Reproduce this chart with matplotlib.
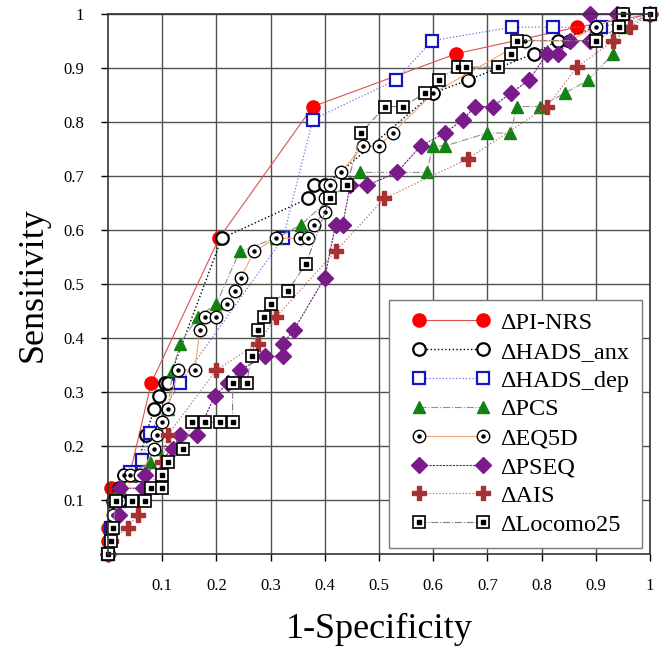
import matplotlib
matplotlib.use("Agg")
import matplotlib.pyplot as plt
from matplotlib.lines import Line2D
from matplotlib.legend_handler import HandlerTuple, HandlerLine2D

plt.rcParams['font.family'] = ['Liberation Serif', 'DejaVu Serif']

# ROC points (x = 1-specificity, y = sensitivity)
pinrs_x = [0, 0, 0, 0.005, 0.04, 0.08, 0.205, 0.378, 0.643, 0.865, 1.0]
pinrs_y = [0, 0.024, 0.049, 0.122, 0.146, 0.317, 0.585, 0.829, 0.927, 0.976, 1.0]

anx_x = [0, 0.005, 0.01, 0.02, 0.03, 0.05, 0.07, 0.085, 0.095, 0.105, 0.11, 0.21,
         0.37, 0.38, 0.4, 0.6, 0.664, 0.786, 0.83, 0.9, 0.95, 1.0]
anx_y = [0, 0.049, 0.098, 0.122, 0.146, 0.146, 0.22, 0.268, 0.293, 0.317, 0.317, 0.585,
         0.659, 0.683, 0.683, 0.854, 0.878, 0.927, 0.951, 0.976, 1.0, 1.0]

dep_x = [0, 0.005, 0.02, 0.04, 0.063, 0.077, 0.133, 0.323, 0.378, 0.531, 0.598,
         0.745, 0.821, 0.91, 1.0]
dep_y = [0, 0.049, 0.098, 0.152, 0.174, 0.224, 0.317, 0.585, 0.805, 0.878, 0.951,
         0.976, 0.976, 0.976, 1.0]

pcs_x = [0, 0.005, 0.01, 0.02, 0.04, 0.077, 0.09, 0.11, 0.12, 0.133, 0.166, 0.2,
         0.243, 0.31, 0.356, 0.465, 0.588, 0.6, 0.622, 0.7, 0.742, 0.755, 0.797,
         0.843, 0.886, 0.932, 0.95, 1.0]
pcs_y = [0, 0.049, 0.098, 0.122, 0.146, 0.171, 0.195, 0.268, 0.341, 0.39, 0.439, 0.463,
         0.561, 0.585, 0.61, 0.707, 0.707, 0.756, 0.756, 0.78, 0.78, 0.829, 0.829,
         0.854, 0.878, 0.927, 0.976, 1.0]

eq5d_x = [0, 0.01, 0.02, 0.03, 0.04, 0.06, 0.085, 0.09, 0.1, 0.11, 0.13, 0.16, 0.17,
          0.18, 0.2, 0.22, 0.235, 0.245, 0.27, 0.31, 0.355, 0.37, 0.38, 0.4, 0.4,
          0.41, 0.43, 0.47, 0.5, 0.525, 0.6, 0.77, 0.85, 0.9, 0.95, 1.0]
eq5d_y = [0, 0.073, 0.098, 0.146, 0.146, 0.146, 0.195, 0.22, 0.244, 0.268, 0.341, 0.341,
          0.415, 0.439, 0.439, 0.463, 0.488, 0.512, 0.561, 0.585, 0.585, 0.585, 0.61,
          0.634, 0.659, 0.683, 0.707, 0.756, 0.756, 0.78, 0.854, 0.951, 0.951, 0.976,
          1.0, 1.0]

pseq_x = [0, 0.02, 0.022, 0.065, 0.068, 0.12, 0.133, 0.164, 0.197, 0.222, 0.243, 0.29,
          0.323, 0.323, 0.343, 0.4, 0.42, 0.433, 0.447, 0.478, 0.533, 0.577, 0.622,
          0.655, 0.677, 0.71, 0.743, 0.777, 0.81, 0.83, 0.853, 0.89, 0.89, 0.94, 1.0]
pseq_y = [0, 0.073, 0.122, 0.122, 0.146, 0.195, 0.22, 0.22, 0.293, 0.317, 0.341, 0.366,
          0.366, 0.39, 0.415, 0.512, 0.61, 0.61, 0.683, 0.683, 0.707, 0.756, 0.78,
          0.805, 0.829, 0.829, 0.854, 0.878, 0.927, 0.927, 0.951, 0.951, 1.0, 1.0, 1.0]

ais_x = [0, 0.005, 0.037, 0.055, 0.1, 0.11, 0.2, 0.277, 0.31, 0.42, 0.51, 0.664,
         0.81, 0.865, 0.932, 0.963, 1.0]
ais_y = [0, 0.024, 0.049, 0.073, 0.171, 0.22, 0.341, 0.39, 0.439, 0.561, 0.659, 0.732,
         0.829, 0.902, 0.951, 0.976, 1.0]

loco_x = [0, 0.005, 0.01, 0.015, 0.044, 0.068, 0.08, 0.1, 0.1, 0.11, 0.138, 0.155,
          0.179, 0.207, 0.23, 0.23, 0.256, 0.265, 0.277, 0.288, 0.3, 0.332, 0.365,
          0.41, 0.441, 0.467, 0.511, 0.544, 0.585, 0.61, 0.645, 0.66, 0.72, 0.744,
          0.755, 0.9, 0.943, 0.95, 1.0]
loco_y = [0, 0.024, 0.049, 0.098, 0.098, 0.098, 0.122, 0.122, 0.146, 0.171, 0.195, 0.244,
          0.244, 0.244, 0.244, 0.317, 0.317, 0.366, 0.415, 0.439, 0.463, 0.488, 0.537,
          0.659, 0.683, 0.78, 0.829, 0.829, 0.854, 0.878, 0.902, 0.902, 0.902, 0.927,
          0.951, 0.951, 0.976, 1.0, 1.0]

tick_vals = [0.1, 0.2, 0.3, 0.4, 0.5, 0.6, 0.7, 0.8, 0.9, 1.0]
tick_labels = ['0.1', '0.2', '0.3', '0.4', '0.5', '0.6', '0.7', '0.8', '0.9', '1']

fig = plt.figure(figsize=(6.66, 6.48), dpi=100)
ax = fig.add_axes([0.162, 0.145, 0.814, 0.833])

kw = dict(clip_on=False)
h_pinrs, = ax.plot(pinrs_x, pinrs_y, '-', color='#e05050', lw=0.8, marker='o', ms=9.5,
                   mfc='#ff0000', mec='#ff0000', **kw)
h_anx, = ax.plot(anx_x, anx_y, ':', color='black', lw=1.0, marker='o', ms=9,
                 mfc='white', mec='black', mew=1.6, **kw)
h_dep, = ax.plot(dep_x, dep_y, ':', color='#7070e0', lw=0.9, marker='s', ms=9,
                 mfc='white', mec='#1414c0', mew=1.6, **kw)
h_pcs, = ax.plot(pcs_x, pcs_y, '-.', color='#909090', lw=0.8, marker='^', ms=9,
                 mfc='#138213', mec='#138213', **kw)
h_eq, = ax.plot(eq5d_x, eq5d_y, '-', color='#f0a870', lw=0.8, marker='o', ms=9,
                mfc='white', mec='black', mew=1.0, **kw)
h_eqc, = ax.plot(eq5d_x, eq5d_y, ls='none', marker='o', ms=2.2, color='black', **kw)
h_pseq, = ax.plot(pseq_x, pseq_y, color='#6a1a7a', ls=(0, (2, 1)), lw=0.8, marker='D',
                  ms=8, mfc='#7b1a8a', mec='#7b1a8a', **kw)
h_ais, = ax.plot(ais_x, ais_y, ':', color='#c07070', lw=0.9, marker='P', ms=10,
                 mfc='#a83232', mec='#a83232', **kw)
h_loco, = ax.plot(loco_x, loco_y, '-.', color='#808080', lw=0.8, marker='s', ms=9,
                  mfc='white', mec='black', mew=1.2, **kw)
h_lococ, = ax.plot(loco_x, loco_y, ls='none', marker='s', ms=3.5, color='black', **kw)

ax.set_xlim(0, 1)
ax.set_ylim(0, 1)
ax.set_xticks(tick_vals)
ax.set_xticklabels(tick_labels)
ax.set_yticks(tick_vals)
ax.set_yticklabels(tick_labels)
ax.tick_params(labelsize=12, length=5, width=1, colors='black', pad=12)
ax.grid(True, color='#505050', lw=1.0)
ax.set_axisbelow(True)
for s in ax.spines.values():
    s.set_color('#333333')
    s.set_linewidth(1.2)

ax.set_xlabel('1-Specificity', fontsize=26, labelpad=14)
ax.set_ylabel('Sensitivity', fontsize=26, labelpad=10)

handles = [h_pinrs, h_anx, h_dep, h_pcs, (h_eq, h_eqc), h_pseq, h_ais, (h_loco, h_lococ)]
labels = ['\u0394PI-NRS', '\u0394HADS_anx', '\u0394HADS_dep', '\u0394PCS', '\u0394EQ5D',
          '\u0394PSEQ', '\u0394AIS', '\u0394Locomo25']
leg = ax.legend(handles, labels, loc='lower right', bbox_to_anchor=(0.985, 0.011),
                handlelength=4.1, fontsize=17.5, labelspacing=0.28,
                fancybox=False, framealpha=1, edgecolor='#777777', borderpad=0.51,
                handletextpad=-0.02, borderaxespad=0,
                handler_map={Line2D: HandlerLine2D(marker_pad=0.72, numpoints=2),
                             tuple: HandlerTuple(ndivide=1)})
leg.get_frame().set_linewidth(1.0)

fig.savefig('out.png', dpi=100)
